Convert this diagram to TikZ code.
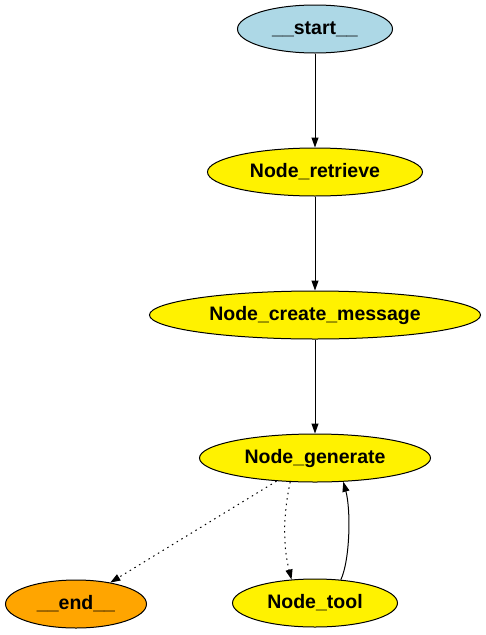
\documentclass[tikz,border=0pt]{standalone}
\usepackage{fontspec}
\setmainfont{Liberation Sans}
\usetikzlibrary{arrows.meta, shapes.geometric}
\definecolor{startblue}{HTML}{ADD8E6}
\definecolor{endorange}{HTML}{FFA500}
\tikzset{
  state/.style={ellipse, draw, line width=1pt, fill=yellow, inner sep=0pt,
    minimum height=48pt, font=\fontsize{19.5}{23}\selectfont\bfseries},
  edge/.style={-{Triangle[length=10pt,width=7pt]}, line width=1pt},
  cond/.style={edge, dash pattern=on 1.5pt off 4pt}
}
\begin{document}
\begin{tikzpicture}[x=1pt, y=-1pt]
\useasboundingbox (0,0) rectangle (486,635);
\node[state, fill=startblue, minimum width=155pt] (start) at (315,29) {\_\_start\_\_};
\node[state, minimum width=215pt] (retrieve) at (315,172) {Node\_retrieve};
\node[state, minimum width=331pt] (message) at (315,315) {Node\_create\_message};
\node[state, minimum width=231pt] (generate) at (315,458) {Node\_generate};
\node[state, fill=endorange, minimum width=141pt] (end) at (76,604) {\_\_end\_\_};
\node[state, minimum width=165pt] (tool) at (315,603) {Node\_tool};
\draw[edge] (start) -- (retrieve);
\draw[edge] (retrieve) -- (message);
\draw[edge] (message) -- (generate);
\draw[cond] (generate.211) -- (end.32);
\draw[cond] (generate.224) .. controls (282,520) and (284,550) .. (tool.135);
\draw[edge] (tool.42) .. controls (350,560) and (351,510) .. (generate.320);
\end{tikzpicture}
\end{document}
